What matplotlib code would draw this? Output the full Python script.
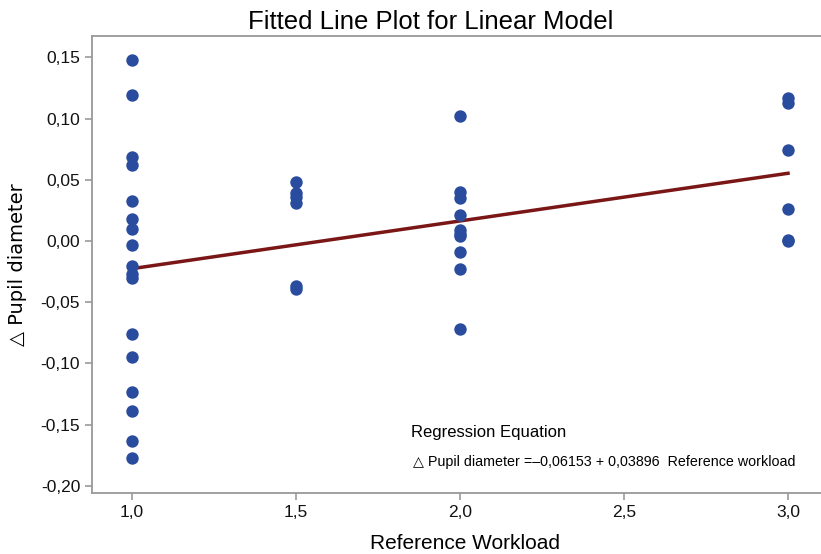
import matplotlib
matplotlib.use("Agg")
from matplotlib import pyplot as plt
from matplotlib.ticker import FuncFormatter

plt.rcParams['font.family'] = ['Liberation Sans', 'DejaVu Sans']

# observed points, grouped by reference workload
x_1 = [1.0] * 17
y_1 = [0.148, 0.119, 0.069, 0.062, 0.033, 0.018, 0.010, -0.003, -0.020, -0.027,
       -0.030, -0.076, -0.095, -0.123, -0.139, -0.163, -0.177]
x_15 = [1.5] * 6
y_15 = [0.048, 0.039, 0.036, 0.031, -0.037, -0.039]
x_2 = [2.0] * 10
y_2 = [0.102, 0.040, 0.035, 0.021, 0.009, 0.006, 0.004, -0.009, -0.023, -0.072]
x_3 = [3.0] * 6
y_3 = [0.117, 0.113, 0.074, 0.026, 0.001, 0.000]

intercept = -0.06153
slope = 0.03896
fit_x = [1.0, 3.0]

xs = x_1 + x_15 + x_2 + x_3
ys = y_1 + y_15 + y_2 + y_3

fig = plt.figure(figsize=(8.21, 5.54), dpi=100)
ax = fig.add_axes([0.112, 0.110, 0.888, 0.825])

ax.scatter(xs, ys, s=80, color='#2a4c9f', zorder=3, linewidths=0)
ax.plot(fit_x, [intercept + slope * v for v in fit_x], color='#7b1616', lw=2.5, zorder=2)

ax.set_xlim(0.878, 3.1006)
ax.set_ylim(-0.2059, 0.1675)
ax.set_xticks([1.0, 1.5, 2.0, 2.5, 3.0])
ax.set_yticks([-0.20, -0.15, -0.10, -0.05, 0.0, 0.05, 0.10, 0.15])
ax.xaxis.set_major_formatter(FuncFormatter(lambda v, p: f"{v:.1f}".replace('.', ',')))
ax.yaxis.set_major_formatter(FuncFormatter(lambda v, p: f"{v:.2f}".replace('.', ',').replace('-0,00', '0,00')))

for s in ['left', 'bottom', 'top']:
    ax.spines[s].set_color('#999999')
    ax.spines[s].set_linewidth(1.3)
ax.spines['right'].set_visible(False)
ax.tick_params(direction='out', length=5, width=1.2, color='#999999', labelsize=12.5, labelcolor='#111111')

# title and x label sit a bit left of the axes centre in the original
ax.set_title("Fitted Line Plot for Linear Model", fontsize=18.5, pad=5, x=0.465)
ax.set_xlabel("Reference Workload", fontsize=15, labelpad=10, x=0.512)
ax.set_ylabel("△ Pupil diameter", fontsize=14, labelpad=10, family=['DejaVu Sans'])

fig.text(411 / 821, 1 - 433 / 554, "Regression Equation", fontsize=12, va='center')
fig.text(413 / 821, 1 - 462 / 554, "△ Pupil diameter =–0,06153 + 0,03896  Reference workload",
         fontsize=10.3, va='center')

fig.savefig("out.png", dpi=100)
